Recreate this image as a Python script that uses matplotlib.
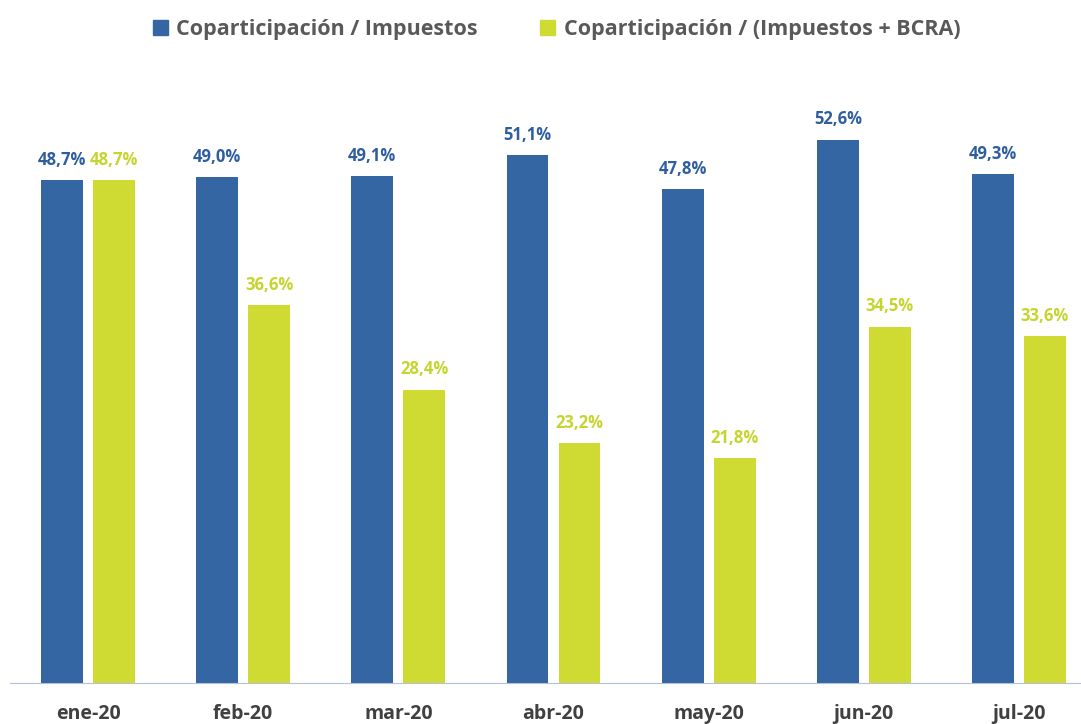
import numpy as np
import matplotlib.pyplot as plt
from matplotlib.patches import Patch

months = ['ene-20', 'feb-20', 'mar-20', 'abr-20', 'may-20', 'jun-20', 'jul-20']
copa_imp = [48.7, 49.0, 49.1, 51.1, 47.8, 52.6, 49.3]
copa_imp_bcra = [48.7, 36.6, 28.4, 23.2, 21.8, 34.5, 33.6]

blue = '#3366a3'
green = '#cfdb33'

plt.rcParams['font.family'] = ['Open Sans', 'DejaVu Sans']

fig = plt.figure(figsize=(10.81, 7.24), dpi=100)
ax = fig.add_axes([10/1081, 41/724, 1071/1081, 623/724])

x = np.arange(len(months))
w = 0.27
off = 0.1675
b1 = ax.bar(x - off, copa_imp, w, color=blue)
b2 = ax.bar(x + off, copa_imp_bcra, w, color=green)

# data labels above bars
for rect, v in zip(b1, copa_imp):
    ax.annotate(f'{v:.1f}%'.replace('.', ','), (rect.get_x() + rect.get_width()/2, v),
                xytext=(0, 8), textcoords='offset points', ha='center', va='bottom',
                fontsize=12, fontweight='bold', color='#2e5e9e')
for rect, v in zip(b2, copa_imp_bcra):
    ax.annotate(f'{v:.1f}%'.replace('.', ','), (rect.get_x() + rect.get_width()/2, v),
                xytext=(0, 8), textcoords='offset points', ha='center', va='bottom',
                fontsize=12, fontweight='bold', color='#c6d42e')

ax.set_xlim(-0.503, 6.40)
ax.set_ylim(0, 60.3)
ax.set_xticks(x)
ax.set_xticklabels(months, fontsize=14, fontweight='bold', color='#404040')
ax.tick_params(axis='x', length=0, pad=15)
ax.set_yticks([])
for s in ['top', 'right', 'left']:
    ax.spines[s].set_visible(False)
ax.spines['bottom'].set_color('#b4c0d8')

handles = [Patch(color=blue), Patch(color=green)]
fig.legend(handles, ['Coparticipación / Impuestos', 'Coparticipación / (Impuestos + BCRA)'],
           loc='upper center', bbox_to_anchor=(0.515, 1.0), ncol=2, frameon=False,
           prop={'size': 15.5, 'weight': 'bold'}, labelcolor='#595959',
           handlelength=0.7, handleheight=0.7, handletextpad=0.4, columnspacing=2.9)

plt.savefig('out.png', dpi=100)
